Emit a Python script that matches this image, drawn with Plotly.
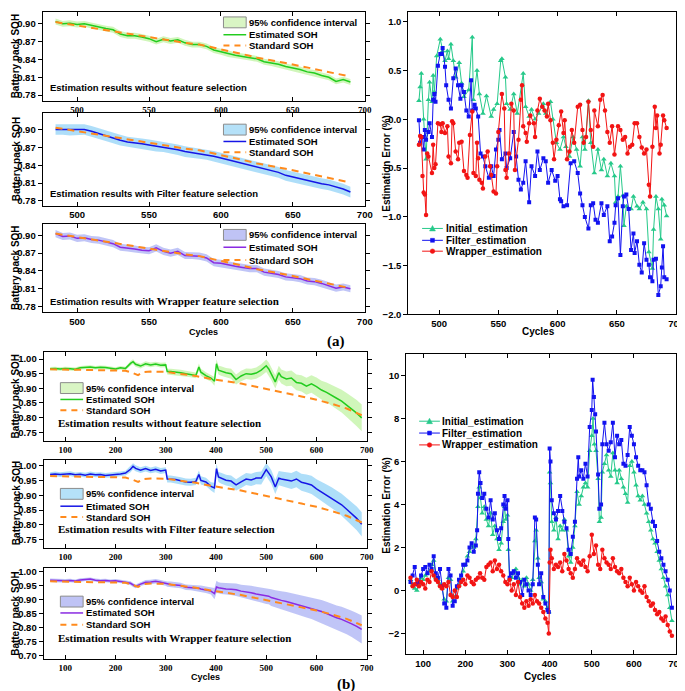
import plotly.graph_objects as go

# ======================= DATA =======================
# ---- panel (a): cycles 485-690 ----
cyc_a = list(range(485, 691, 5))
est_a_init = [.904, .900, .901, .899, .900, .897, .894, .892, .890, .883, .880, .880, .878, .875, .870, .874,
              .871, .873, .868, .865, .865, .862, .856, .853, .849, .847, .845, .843, .841, .836, .834, .832,
              .828, .826, .823, .819, .817, .813, .810, .803, .806, .802]
est_a_filter = [.900, .900, .899, .899, .900, .897, .893, .890, .886, .882, .879, .878, .876, .874, .872, .871,
                .869, .866, .863, .861, .860, .858, .855, .852, .849, .846, .843, .840, .838, .835, .831, .828,
                .823, .820, .818, .815, .812, .809, .807, .804, .800, .795]
est_a_wrap = [.903, .898, .899, .895, .896, .893, .892, .889, .886, .880, .879, .877, .875, .874, .879, .873,
              .870, .873, .866, .866, .865, .862, .854, .853, .850, .848, .846, .844, .844, .838, .836, .834,
              .830, .829, .827, .823, .822, .819, .815, .811, .813, .810]
std_cyc_a = [485, 495, 505, 515, 525, 535, 545, 555, 565, 575, 585, 595, 605, 615, 625, 635, 645, 655, 665, 675, 685, 690]
std_a = [.903, .899, .895, .892, .888, .883, .879, .875, .871, .868, .865, .860, .854, .849, .843, .839, .834,
         .829, .824, .819, .814, .811]
ci_a_init, ci_a_filter, ci_a_wrap = 0.005, 0.009, 0.006

err_a_init = [(483,.19),(484,.33),(485,.47),(487,0),(489,-.41),(491,.2),(492,.38),(494,.18),(495,.45),(496,.28),
    (498,.65),(501,.82),(503,.7),(505,.6),(507,.7),(508,.62),(510,.77),(512,.6),(514,.43),(517,.58),
    (519,.37),(521,.23),(525,.3),(528,.84),(529,.2),(532,.5),(534,.26),(537,.06),(540,.24),(544,.03),
    (546,.1),(549,.16),(552,.6),(553,.62),(556,.43),(557,.16),(560,.1),(563,.26),(566,.06),(571,.47),
    (573,.13),(576,.03),(578,.1),(581,0),(584,.06),(588,.16),(590,.06),(594,.18),(596,0),(599,-.24),
    (602,-.31),(605,-.18),(607,-.28),(610,-.38),(613,-.18),(616,-.31),(619,-.48),(621,-.18),(623,-.31),(626,.19),
    (628,-.24),(631,-.55),(634,-.31),(637,-.52),(639,-.41),(642,-.58),(645,-.45),(648,-.58),(649,-.85),(651,-.79),
    (653,-.48),(655,-.78),(656,-1.09),(658,-.89),(662,-.92),(664,-.79),(667,-.89),(669,-.92),(672,-.85),(675,-.92),
    (677,-1.36),(680,-1.53),(681,-1.13),(683,-.79),(685,-.92),(687,-1.23),(688,-.82),(690,-.88),(692,-.99)]
err_a_filter = [(483,-.01),(484,-.24),(486,-.18),(487,-.31),(488,-.11),(489,-.21),(491,-.13),(492,-.04),(494,-.18),(495,.2),
    (496,.26),(497,.18),(499,.55),(501,.67),(502,.67),(503,.73),(505,.54),(506,.35),(508,.2),(510,.11),
    (512,.42),(514,.52),(516,.35),(518,.21),(519,.35),(521,.28),(523,.09),(525,.03),(527,.4),(528,.09),
    (530,.15),(531,.11),(533,.03),(535,-.35),(537,-.38),(539,-.48),(542,-.6),(544,-.48),(546,-.58),(548,-.31),
    (550,-.21),(551,-.11),(553,-.41),(556,-.35),(557,-.5),(560,-.4),(563,-.13),(565,-.38),(567,-.62),(569,-.72),
    (571,-.65),(573,-.43),(576,-.85),(578,-.48),(581,-.58),(583,-.33),(585,-.52),(588,-.4),(590,-.43),(592,-.65),
    (595,-.52),(598,-.63),(600,-.58),(602,-.82),(603,-.84),(605,-.89),(608,-.88),(611,-.45),(614,-.43),(617,-.55),
    (619,-.76),(621,-.88),(623,-1.0),(626,-1.12),(628,-.88),(630,-.86),(632,-1.03),(634,-1.06),(637,-.86),(639,-.98),
    (642,-.89),(644,-1.25),(646,-1.2),(648,-1.06),(649,-.88),(651,-.81),(653,-1.39),(655,-.89),(656,-.79),(658,-.77),
    (660,-.92),(662,-1.34),(664,-1.17),(665,-1.37),(667,-1.25),(669,-1.49),(671,-1.57),(673,-1.27),(675,-1.44),(677,-1.49),
    (678,-1.62),(680,-1.66),(681,-1.44),(683,-1.43),(685,-1.8),(687,-1.71),(688,-1.52),(689,-1.3),(690,-1.62),(692,-1.64)]
err_a_wrap = [(483,-.26),(484,-.17),(485,-.18),(486,-.58),(487,-.75),(488,-.77),(489,-.98),(490,-.35),(491,-.38),(494,-.55),
    (495,-.26),(496,-.5),(497,-.46),(499,-.04),(501,-.05),(502,-.13),(503,-.04),(505,-.14),(507,-.07),(508,-.38),
    (510,-.45),(511,-.02),(512,-.04),(514,-.33),(516,-.41),(517,-.24),(519,-.23),(521,-.53),(523,-.57),(524,-.6),
    (526,-.16),(528,.08),(529,-.55),(531,-.58),(532,-.24),(533,-.4),(534,-.62),(536,-.65),(537,-.71),(539,-.38),
    (541,-.33),(543,-.48),(544,-.57),(546,-.74),(548,-.76),(549,-.48),(550,-.13),(553,.26),(555,.11),(556,-.52),
    (557,-.6),(559,-.35),(561,.16),(563,.09),(564,-.52),(567,-.21),(569,.2),(570,.35),(571,-.07),(573,-.14),
    (574,-.23),(576,-.04),(577,.04),(580,-.04),(581,-.18),(583,.09),(585,.21),(587,.13),(589,.09),(591,.03),
    (592,.16),(594,-.01),(596,-.24),(597,-.41),(599,-.21),(601,-.06),(603,.08),(605,-.14),(606,-.01),(608,-.41),
    (610,-.33),(612,-.11),(614,-.24),(617,.13),(619,.15),(621,-.11),(622,-.24),(624,-.18),(626,.18),(628,-.11),
    (630,-.28),(631,.09),(634,-.07),(636,.2),(638,.25),(640,.09),(642,-.13),(644,-.24),(646,-.07),(648,-.36),
    (651,-.07),(653,-.11),(655,-.21),(657,-.18),(659,-.35),(661,-.28),(663,-.26),(665,-.04),(667,-.04),(669,-.18),
    (671,-.29),(673,-.35),(675,-.31),(677,-.67),(678,-.79),(680,-.28),(682,.13),(683,-.09),(684,.04),(686,-.35),
    (687,-.26),(689,.04),(690,-.01),(692,-.09)]

# ---- panel (b): cycles 70-690 ----
cyc_b = [70, 80, 90, 100, 110, 120, 130, 140, 150, 160,
         170, 180, 190, 200, 210, 220, 230, 235, 240, 250,
         260, 270, 280, 290, 300, 303, 310, 320, 330, 340,
         350, 360, 366, 370, 380, 390, 397, 401, 405, 410,
         420, 430, 440, 450, 460, 470, 480, 490, 500, 505,
         510, 518, 525, 530, 540, 550, 560, 570, 580, 590,
         600, 610, 620, 630, 640, 650, 660, 670, 680, 690]
est_b_init = [.967, .968, .966, .968, .967, .965, .970, .971, .973, .970,
              .972, .971, .969, .966, .970, .968, .985, .991, .982, .976,
              .984, .980, .983, .979, .980, .957, .957, .956, .953, .950,
              .948, .944, .973, .955, .943, .935, .924, .984, .962, .959,
              .953, .950, .930, .942, .950, .948, .952, .962, .977, .966,
              .950, .922, .953, .940, .932, .935, .920, .917, .907, .915,
              .906, .894, .886, .877, .866, .856, .843, .830, .815, .799]
est_b_filter = [.970, .972, .970, .971, .973, .969, .971, .968, .972, .969,
                .970, .967, .968, .970, .972, .975, .988, .998, .991, .985,
                .990, .984, .988, .982, .985, .955, .955, .953, .949, .945,
                .944, .947, .970, .950, .945, .930, .925, .990, .962, .958,
                .951, .948, .935, .945, .955, .952, .958, .958, .987, .975,
                .962, .928, .958, .955, .952, .948, .955, .944, .940, .935,
                .922, .911, .902, .892, .881, .868, .853, .838, .822, .802]
est_b_wrap = [.969, .968, .967, .967, .968, .966, .970, .972, .973, .969,
              .967, .968, .966, .967, .965, .962, .958, .952, .947, .955,
              .962, .963, .965, .962, .957, .955, .954, .952, .950, .944,
              .943, .941, .940, .938, .935, .930, .921, .945, .942, .940,
              .938, .937, .935, .930, .928, .924, .920, .916, .912, .912,
              .907, .902, .900, .897, .893, .888, .884, .879, .874, .869,
              .863, .857, .850, .842, .835, .829, .822, .813, .804, .793]
ci_b_init = [.006, .006, .006, .006, .006, .006, .006, .006, .006, .006,
             .006, .006, .006, .006, .006, .006, .008, .008, .008, .008,
             .008, .008, .008, .008, .008, .010, .010, .010, .010, .010,
             .010, .010, .012, .012, .012, .012, .015, .015, .015, .016,
             .016, .017, .017, .018, .018, .019, .019, .020, .021, .022,
             .022, .023, .024, .024, .025, .026, .027, .028, .029, .030,
             .031, .032, .034, .035, .037, .039, .041, .043, .045, .046]
ci_b_filter = [.008, .008, .008, .008, .008, .008, .008, .008, .008, .008,
               .008, .008, .008, .008, .008, .008, .010, .010, .010, .010,
               .010, .010, .010, .010, .010, .012, .012, .012, .012, .012,
               .012, .012, .014, .014, .014, .014, .017, .017, .017, .018,
               .018, .019, .019, .020, .020, .021, .021, .022, .022, .023,
               .023, .024, .024, .025, .026, .027, .028, .029, .030, .031,
               .032, .033, .034, .035, .036, .037, .038, .039, .040, .041]
ci_b_wrap = [.006, .006, .006, .006, .006, .006, .006, .006, .006, .006,
             .006, .006, .006, .006, .006, .006, .007, .007, .007, .007,
             .008, .008, .008, .008, .008, .009, .010, .010, .010, .010,
             .010, .010, .012, .012, .012, .012, .020, .022, .020, .020,
             .021, .021, .022, .023, .024, .025, .026, .027, .028, .029,
             .030, .031, .032, .033, .034, .035, .036, .037, .038, .039,
             .040, .041, .042, .043, .044, .045, .046, .047, .048, .050]
std_cyc_b = [70, 100, 130, 160, 190, 220, 235, 245, 255, 270, 300, 330, 360, 390, 420, 450, 480, 510,
             540, 570, 600, 630, 660, 690]
std_b = [.965, .964, .962, .962, .962, .960, .952, .945, .955, .957, .956, .950, .942, .932, .924, .916,
         .905, .893, .883, .872, .861, .847, .831, .808]

err_b_init = [(70,.5),(75,.3),(80,.1),(85,0),(90,.3),(95,.6),(100,.5),(105,.7),(110,.8),(115,.9),
    (120,1.2),(125,1.4),(130,.6),(135,.5),(140,.3),(145,.1),(150,-.4),(155,-.5),(160,.6),(165,.5),
    (170,-.5),(175,-.3),(180,.1),(185,.3),(190,.5),(195,.9),(200,1.2),(205,1.6),(210,1.8),(215,2.1),
    (220,2.0),(225,2.4),(230,3.9),(233,4.8),(236,4.3),(240,3.6),(245,3.9),(250,3.3),(255,3.0),(260,3.6),
    (265,2.6),(270,3.0),(275,2.4),(280,1.9),(285,2.2),(290,3.2),(293,3.9),(296,3.3),(300,3.5),(302,1.9),
    (305,.5),(310,.6),(315,.8),(320,1.0),(325,.6),(330,.3),(335,.5),(340,.2),(345,.6),(350,.3),
    (355,0),(360,.5),(365,2.3),(368,2.8),(372,1.5),(375,.6),(380,.4),(385,-.4),(390,-.5),(395,-.8),
    (398,-1.0),(400,5.5),(402,5.0),(405,3.2),(410,2.8),(415,3.4),(420,2.4),(425,3.0),(430,2.8),(435,3.3),
    (440,2.8),(445,1.6),(450,1.3),(455,2.0),(460,3.0),(465,4.6),(470,4.0),(475,4.4),(480,4.8),(485,5.0),
    (490,4.8),(495,6.5),(500,7.2),(503,8.0),(506,6.8),(510,6.5),(515,5.2),(518,3.2),(522,3.4),(525,5.5),
    (530,5.9),(535,6.3),(540,5.6),(545,5.3),(550,6.4),(555,5.6),(560,5.0),(565,5.6),(570,5.2),(575,4.8),
    (580,4.5),(585,4.1),(590,5.8),(595,6.0),(600,5.5),(605,4.9),(610,4.4),(615,4.2),(620,4.4),(625,4.0),
    (630,3.6),(635,3.2),(640,2.8),(645,2.4),(650,2.2),(655,1.8),(660,1.4),(665,1.0),(670,.6),(675,.2),
    (680,-.2),(685,-.8),(690,-1.4)]
err_b_filter = [(70,.4),(75,.7),(80,1.1),(85,.3),(90,.4),(95,.7),(100,1.0),(105,1.1),(110,.8),(115,1.2),
    (120,1.0),(125,1.6),(130,.8),(135,.6),(140,1.0),(145,.2),(150,-.6),(155,-.8),(160,1.0),(165,.7),
    (170,-.7),(175,-.5),(180,.2),(185,.5),(190,.7),(195,1.2),(200,1.2),(205,1.4),(210,2.0),(215,2.2),
    (220,1.8),(225,2.1),(228,2.8),(230,4.5),(233,5.5),(236,5.0),(240,4.3),(245,4.5),(250,3.8),(255,3.4),
    (260,4.2),(265,3.3),(270,3.6),(275,2.8),(280,2.4),(285,2.9),(290,4.0),(293,4.4),(296,3.8),(300,4.2),
    (302,2.4),(305,.6),(310,.8),(315,.9),(320,.6),(325,.8),(330,.4),(335,-.2),(340,.5),(345,.3),
    (350,0),(355,-.2),(360,.3),(365,3.4),(368,3.3),(372,1.2),(375,.3),(380,.8),(385,-.3),(390,-.6),
    (395,-.9),(398,-1.0),(400,6.6),(402,6.0),(405,4.2),(410,3.6),(415,3.3),(420,3.7),(425,4.4),(430,3.7),
    (435,3.2),(440,2.9),(445,1.9),(450,1.7),(455,2.5),(460,3.2),(465,5.2),(468,6.2),(470,5.3),(475,5.6),
    (480,5.2),(485,5.9),(490,5.3),(495,7.6),(500,8.4),(502,9.8),(505,9.0),(508,8.2),(510,7.4),(515,5.4),
    (518,3.8),(522,4.0),(525,6.8),(530,7.8),(535,6.8),(540,6.5),(545,6.9),(550,7.8),(555,6.2),(560,7.2),
    (565,6.8),(570,7.0),(575,5.9),(580,5.8),(585,6.3),(590,7.6),(595,7.2),(600,6.8),(605,6.2),(610,5.8),
    (615,5.6),(620,5.6),(625,5.5),(630,4.9),(635,4.0),(640,3.8),(645,3.2),(650,3.0),(655,2.3),(660,1.8),
    (665,1.5),(670,1.2),(675,.9),(680,.5),(685,0),(690,-.8)]
err_b_wrap = [(70,.6),(75,.2),(80,.3),(85,.5),(90,.2),(95,.4),(100,.3),(105,.1),(110,.5),(115,.4),
    (120,.9),(125,.7),(130,.5),(135,.4),(140,.2),(145,.1),(150,.3),(155,.2),(160,.4),(165,-.2),
    (170,-.3),(175,0),(180,-.3),(185,.2),(190,.4),(195,.5),(200,.3),(205,.7),(210,.6),(215,.4),
    (220,.3),(225,.5),(230,.6),(235,.8),(240,.6),(245,.5),(250,1.1),(255,1.2),(260,1.3),(265,.9),
    (270,1.4),(275,1.0),(280,1.2),(285,.9),(290,.7),(295,.4),(300,.3),(305,.5),(310,0),(315,.3),
    (320,-.2),(325,.4),(330,-.3),(335,-.6),(340,-.8),(345,-.5),(350,-.7),(355,-.4),(360,-.6),(365,-.2),
    (370,-.5),(375,-.6),(380,-.8),(385,-1.0),(390,-1.3),(395,-1.5),(398,-2.0),(400,1.3),(402,1.9),(405,1.5),
    (410,1.0),(415,1.2),(420,1.1),(425,1.3),(430,.9),(435,1.7),(440,1.4),(445,1.0),(450,.8),(455,.6),
    (460,1.0),(465,1.5),(470,1.3),(475,1.2),(480,1.4),(485,1.1),(490,.9),(495,1.6),(500,2.6),(505,1.7),
    (510,2.1),(515,1.2),(520,1.0),(525,1.9),(530,1.5),(535,1.3),(540,1.2),(545,1.0),(550,1.5),(555,1.1),
    (560,.9),(565,.8),(570,1.0),(575,.6),(580,.4),(585,.2),(590,.6),(595,.3),(600,0),(605,.4),
    (610,.2),(615,0),(620,-.1),(625,.2),(630,-.3),(635,-.5),(640,-.7),(645,-.6),(650,-.9),(655,-1.1),
    (660,-1.0),(665,-1.3),(670,-1.4),(675,-1.2),(680,-1.6),(685,-1.9),(690,-2.1)]

# tick labels
ticks_a_x = [500, 550, 600, 650, 700]
ticks_a_soh = [0.78, 0.81, 0.84, 0.87, 0.90]
ticks_a_err = [-2.0, -1.5, -1.0, -0.5, 0.0, 0.5, 1.0]
ticks_b_x = [100, 200, 300, 400, 500, 600, 700]
ticks_b_soh = [0.75, 0.80, 0.85, 0.90, 0.95, 1.00]
ticks_b_soh3 = [0.70, 0.75, 0.80, 0.85, 0.90, 0.95, 1.00]
ticks_b_err = [-2, 0, 2, 4, 6, 8, 10]

# ======================= STYLE / LAYOUT =======================
W, H = 685, 691
def PX(p): return p / W
def PY(p): return 1 - p / H

SANS = 'Liberation Sans'
SERIF = 'Liberation Serif'
ORANGE = '#ff8a1c'
C_GREEN, C_BLUE, C_PURP = '#22cc1e', '#1515e6', '#8a2be2'
B_GREEN, B_BLUE, B_PURP = 'rgba(170,238,130,0.55)', 'rgba(120,200,245,0.6)', 'rgba(140,150,240,0.55)'
L_GREEN, L_BLUE, L_PURP = '#d9f5c4', '#b5e1f8', '#bfc3f5'
C_INIT, C_FILT, C_WRAP = '#26c98a', '#1212f0', '#f21414'

fig = go.Figure()

def add_band(xa, ya, cyc, est, hw, color):
    hws = hw if isinstance(hw, list) else [hw] * len(cyc)
    up = [e + h for e, h in zip(est, hws)]
    lo = [e - h for e, h in zip(est, hws)]
    fig.add_trace(go.Scatter(x=list(cyc) + list(cyc)[::-1], y=up + lo[::-1], fill='toself', fillcolor=color,
                             line=dict(width=0), mode='lines', hoverinfo='skip', showlegend=False,
                             xaxis=xa, yaxis=ya))

def add_line(xa, ya, x, y, color, width=1.5, dash=None):
    fig.add_trace(go.Scatter(x=x, y=y, mode='lines', line=dict(color=color, width=width, dash=dash),
                             showlegend=False, xaxis=xa, yaxis=ya))

def add_err(xa, ya, pairs, color, symbol, size):
    fig.add_trace(go.Scatter(x=[p[0] for p in pairs], y=[p[1] for p in pairs], mode='lines+markers',
                             line=dict(color=color, width=1), marker=dict(symbol=symbol, size=size, color=color),
                             showlegend=False, xaxis=xa, yaxis=ya))

DASH = '7px,5px'
# (a) SOH panels
for xa, ya, est, ci, lc, bc in [('x', 'y', est_a_init, ci_a_init, C_GREEN, B_GREEN),
                                ('x2', 'y2', est_a_filter, ci_a_filter, C_BLUE, B_BLUE),
                                ('x3', 'y3', est_a_wrap, ci_a_wrap, C_PURP, B_PURP)]:
    add_band(xa, ya, cyc_a, est, ci, bc)
    add_line(xa, ya, cyc_a, est, lc, 1.5)
    add_line(xa, ya, std_cyc_a, std_a, ORANGE, 2, DASH)
# (a) errors
add_err('x4', 'y4', err_a_init, C_INIT, 'triangle-up', 5)
add_err('x4', 'y4', err_a_filter, C_FILT, 'square', 4)
add_err('x4', 'y4', err_a_wrap, C_WRAP, 'circle', 4.5)
# (b) SOH panels
for xa, ya, est, ci, lc, bc in [('x5', 'y5', est_b_init, ci_b_init, C_GREEN, B_GREEN),
                                ('x6', 'y6', est_b_filter, ci_b_filter, C_BLUE, B_BLUE),
                                ('x7', 'y7', est_b_wrap, ci_b_wrap, C_PURP, B_PURP)]:
    add_band(xa, ya, cyc_b, est, ci, bc)
    add_line(xa, ya, cyc_b, est, lc, 1.5)
    add_line(xa, ya, std_cyc_b, std_b, ORANGE, 2, DASH)
# (b) errors
add_err('x8', 'y8', err_b_init, C_INIT, 'triangle-up', 5)
add_err('x8', 'y8', err_b_filter, C_FILT, 'square', 4)
add_err('x8', 'y8', err_b_wrap, C_WRAP, 'circle', 4.5)

def xaxis(dom, rng, tv, anchor, serif=False, size=9.5):
    return dict(domain=[PX(dom[0]), PX(dom[1])], range=rng, anchor=anchor, tickmode='array', tickvals=tv,
                ticks='inside', ticklen=4, tickcolor='black', showline=True, linecolor='black', linewidth=1,
                mirror='ticks', showgrid=False, zeroline=False,
                tickfont=dict(family=SERIF if serif else SANS, size=size, color='black', weight='bold'))

def yaxis(dom, rng, tv, anchor, fmt, size=9.5):
    return dict(domain=[PY(dom[1]), PY(dom[0])], range=rng, anchor=anchor, tickmode='array', tickvals=tv,
                tickformat=fmt, ticks='outside', ticklen=4, tickcolor='black', showline=True, linecolor='black',
                linewidth=1, mirror='ticks', showgrid=False, zeroline=False,
                tickfont=dict(family=SANS, size=size, color='black', weight='bold'))

axes = dict(
    xaxis=xaxis((35, 361), [476, 700], ticks_a_x, 'y', serif=True, size=9),
    yaxis=yaxis((1, 91), [0.77, 0.92], ticks_a_soh, 'x', '.2f'),
    xaxis2=xaxis((35, 361), [476, 700], ticks_a_x, 'y2'),
    yaxis2=yaxis((103, 197), [0.772, 0.928], ticks_a_soh, 'x2', '.2f'),
    xaxis3=xaxis((35, 361), [476, 700], ticks_a_x, 'y3'),
    yaxis3=yaxis((215, 305), [0.77, 0.92], ticks_a_soh, 'x3', '.2f'),
    xaxis4=xaxis((405, 676), [474, 700], ticks_a_x, 'y4'),
    yaxis4=yaxis((1, 307), [-2.0, 1.1], ticks_a_err, 'x4', '.1f'),
    xaxis5=xaxis((36, 363), [57, 700], ticks_b_x, 'y5', serif=True, size=9),
    yaxis5=yaxis((345, 435), [0.72, 1.024], ticks_b_soh, 'x5', '.2f'),
    xaxis6=xaxis((36, 363), [57, 700], ticks_b_x, 'y6', serif=True, size=9),
    yaxis6=yaxis((454, 543), [0.723, 1.02], ticks_b_soh, 'x6', '.2f'),
    xaxis7=xaxis((36, 363), [57, 700], ticks_b_x, 'y7', serif=True, size=9),
    yaxis7=yaxis((564, 656), [0.686, 1.011], ticks_b_soh3, 'x7', '.2f'),
    xaxis8=xaxis((403, 676), [60, 700], ticks_b_x, 'y8'),
    yaxis8=yaxis((347, 651), [-2.97, 11.0], ticks_b_err, 'x8', 'd'),
)

shapes, annots = [], []

def txt(x, y, s, size, family=SANS, bold=True, xanchor='left', angle=0):
    annots.append(dict(x=PX(x), y=PY(y), xref='paper', yref='paper', text=s, showarrow=False,
                       xanchor=xanchor, yanchor='middle', textangle=angle, borderpad=0, borderwidth=0,
                       font=dict(family=family, size=size, color='black', weight='bold' if bold else 'normal')))

def hline(x0, x1, y, color, width, dash=None):
    shapes.append(dict(type='line', xref='paper', yref='paper', x0=PX(x0), x1=PX(x1), y0=PY(y), y1=PY(y),
                       line=dict(color=color, width=width, dash=dash)))

def soh_legend(x0, x1, ys, fill, lcol, est_label, tx):
    y1, y2, y3 = ys
    shapes.append(dict(type='rect', xref='paper', yref='paper', x0=PX(x0), x1=PX(x1), y0=PY(y1 + 5.5),
                       y1=PY(y1 - 5.5), fillcolor=fill, line=dict(color='#8c8c8c', width=1)))
    hline(x0, x1, y2, lcol, 1.5)
    hline(x0, x1, y3, ORANGE, 2, '6px,5px')
    txt(tx, y1, '95% confidence interval', 9.5)
    txt(tx, y2, est_label, 9.5)
    txt(tx, y3, 'Standard SOH', 9.5)

def marker_shape(cx, cy, kind, color):
    if kind == 'tri':
        path = 'M {:.5f},{:.5f} L {:.5f},{:.5f} L {:.5f},{:.5f} Z'.format(
            PX(cx), PY(cy - 3), PX(cx - 3), PY(cy + 2.5), PX(cx + 3), PY(cy + 2.5))
        shapes.append(dict(type='path', xref='paper', yref='paper', path=path, fillcolor=color,
                           line=dict(color=color, width=0.5)))
    elif kind == 'sq':
        shapes.append(dict(type='rect', xref='paper', yref='paper', x0=PX(cx - 2), x1=PX(cx + 2),
                           y0=PY(cy + 2), y1=PY(cy - 2), fillcolor=color, line=dict(color=color, width=0.5)))
    else:
        shapes.append(dict(type='circle', xref='paper', yref='paper', x0=PX(cx - 2.3), x1=PX(cx + 2.3),
                           y0=PY(cy + 2.3), y1=PY(cy - 2.3), fillcolor=color, line=dict(color=color, width=0.5)))

def err_legend(x0, x1, ys, tx):
    items = [(C_INIT, 'tri', 'Initial_estimation'), (C_FILT, 'sq', 'Filter_estimation'),
             (C_WRAP, 'circ', 'Wrapper_estimation')]
    for (col, kind, label), y in zip(items, ys):
        hline(x0, x1, y, col, 1)
        marker_shape((x0 + x1) / 2, y, kind, col)
        txt(tx, y, label, 10)

# legends
soh_legend(218, 241, (11.5, 24, 35), L_GREEN, C_GREEN, 'Estimated SOH', 244)
soh_legend(218, 241, (120, 132, 143), L_BLUE, C_BLUE, 'Estimated SOH', 244)
soh_legend(218, 241, (226.5, 239, 252), L_PURP, C_PURP, 'Estimated SOH', 244)
soh_legend(53, 76, (381.5, 393, 404), L_GREEN, C_GREEN, 'Estimated SOH', 79)
soh_legend(53, 76, (488.5, 501, 512), L_BLUE, C_BLUE, 'Etimated SOH', 79)
soh_legend(53, 76, (597.5, 609, 621), L_PURP, C_PURP, 'Estimated SOH', 79)
err_legend(419, 440, (220, 232, 243), 443)
err_legend(416, 437, (415, 427, 439), 439)

# panel texts
txt(43, 77, 'Estimation results without feature selection', 9.5)
txt(43, 185, 'Estimation results with Filter feature selection', 9.5)
txt(43, 293, 'Estimation results with <span style="font-family:Liberation Serif;font-size:11px">Wrapper feature selection</span>', 9.5)
txt(51, 417, 'Estimation results without feature selection', 11, family=SERIF)
txt(51, 524, 'Estimation results with Filter feature selection', 11, family=SERIF)
txt(51, 634, 'Estimation results with Wrapper feature selection', 11, family=SERIF)

# axis titles
for yc in (46, 150, 260, 390, 498, 610):
    txt(8, yc, 'Battery pack SOH', 10, xanchor='center', angle=-90)
txt(383, 154, 'Estimation Error (%)', 10, xanchor='center', angle=-90)
txt(383, 500, 'Estimation Error (%)', 10, xanchor='center', angle=-90)
txt(198, 325, 'Cycles', 9, xanchor='center')
txt(537, 324, 'Cycles', 10, xanchor='center')
txt(200, 674, 'Cycles', 9, xanchor='center')
txt(539, 673, 'Cycles', 10, xanchor='center')
txt(332, 334, '(a)', 15, family=SERIF, xanchor='center')
txt(342, 681, '(b)', 15, family=SERIF, xanchor='center')

fig.update_layout(width=W, height=H, margin=dict(l=0, r=0, t=0, b=0), paper_bgcolor='white',
                  plot_bgcolor='white', showlegend=False, shapes=shapes, annotations=annots,
                  font=dict(family=SANS, color='black'), **axes)

fig.write_html("out.html")
